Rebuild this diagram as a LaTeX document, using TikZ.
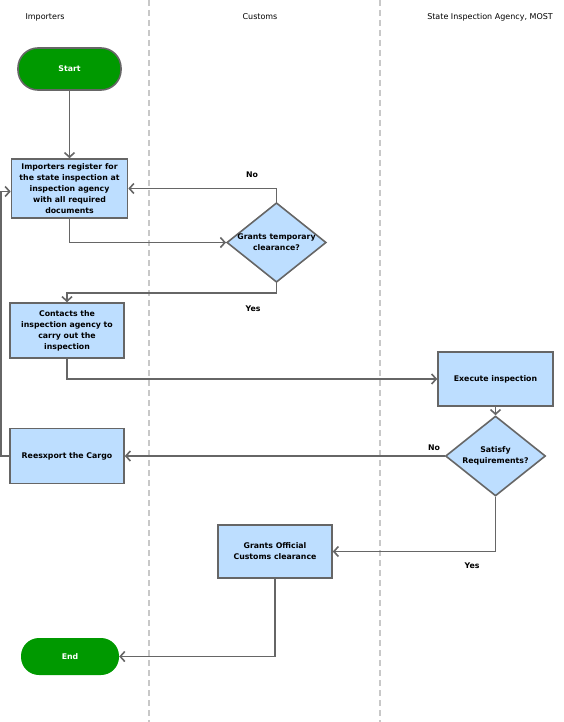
\documentclass[tikz,border=0pt]{standalone}
\usepackage{fontspec}
\setmainfont{DejaVu Sans}
\usetikzlibrary{shapes.geometric,arrows.meta}
\definecolor{lanegray}{RGB}{200,200,200}
\definecolor{linegray}{RGB}{102,102,102}
\definecolor{boxblue}{RGB}{189,222,255}
\definecolor{termgreen}{RGB}{0,153,0}

\begin{document}
\begin{tikzpicture}[x=1pt,y=-1pt,
  every node/.style={font=\fontsize{8}{11}\selectfont},
  proc/.style={rectangle, draw=linegray, line width=1.6pt, fill=boxblue,
    align=center, font=\fontsize{7.8}{11}\selectfont\bfseries, inner sep=2pt},
  decision/.style={diamond, draw=linegray, line width=1.6pt, fill=boxblue,
    align=center, font=\fontsize{7.8}{11}\selectfont\bfseries, inner sep=0pt, aspect=1.25},
  term/.style={rectangle, rounded corners=20pt, fill=termgreen, text=white,
    font=\fontsize{7.8}{11}\selectfont\bfseries},
  flow/.style={draw=linegray, line width=1.6pt, -{Straight Barb[length=4.5pt,width=10pt]}},
  answer/.style={font=\fontsize{7.8}{11}\selectfont\bfseries}]

\useasboundingbox (0,0) rectangle (563,722);

% raias
\foreach \x in {149,380}{
  \draw[lanegray, line width=1.5pt, dash pattern=on 6pt off 4pt] (\x,0) -- (\x,722);
}
\node (hImp) at (45,17) {Importers};
\node (hCus) at (260,17) {Customs};
\node (hSia) at (490,17) {State Inspection Agency, MOST};

% etapas
\node[term, draw=linegray, line width=1.6pt, minimum width=103pt, minimum height=42pt] (start) at (69.5,69) {Start};
\node[proc, minimum width=116pt, minimum height=59pt] (reg) at (69.5,188.5)
  {Importers register for\\the state inspection at\\inspection agency\\with all required\\documents};
\node[decision, minimum width=99pt, minimum height=79pt] (tmp) at (276.5,242.5)
  {Grants temporary\\clearance?};
\node[proc, minimum width=114pt, minimum height=55pt] (contact) at (67,330.5)
  {Contacts the\\inspection agency to\\carry out the\\inspection};
\node[proc, minimum width=115pt, minimum height=54pt] (exec) at (495.5,379)
  {Execute inspection};
\node[decision, minimum width=100pt, minimum height=80pt] (sat) at (495.5,456)
  {Satisfy\\Requirements?};
\node[proc, minimum width=114pt, minimum height=55pt] (reexp) at (67,456)
  {Reesxport the Cargo};
\node[proc, minimum width=114pt, minimum height=53pt] (official) at (275,551.5)
  {Grants Official\\Customs clearance};
\node[term, minimum width=98pt, minimum height=37pt, rounded corners=18pt] (endn) at (70,656.5) {End};

% ligacoes
\draw[flow] (start) -- (reg);
\draw[flow] (reg.south) |- (tmp.west);
\draw[flow] (tmp.north) |- (reg.east);
\draw[flow] (tmp.south) -- (tmp.south |- 0,293) -| (contact.north);
\draw[flow] (contact.south) |- (exec.west);
\draw[flow] (exec) -- (sat);
\draw[flow] (sat.west) -- (reexp.east);
\draw[flow] (reexp.west) -- (1,456) |- ([yshift=-3pt]reg.west);
\draw[flow] (sat.south) |- (official.east);
\draw[flow] (official.south) |- (endn.east);

\node[answer] (no1) at (252,175) {No};
\node[answer] (yes1) at (253,309) {Yes};
\node[answer] (no2) at (434,448) {No};
\node[answer] (yes2) at (472,566) {Yes};

\end{tikzpicture}
\end{document}
